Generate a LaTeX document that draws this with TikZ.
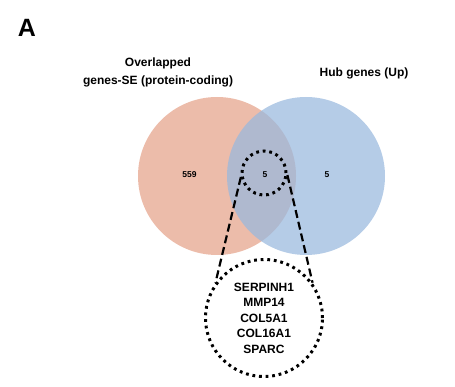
\documentclass[tikz,border=0pt]{standalone}
\usepackage{fontspec}
\setmainfont{Liberation Sans}
\definecolor{setpink}{RGB}{236,188,170}
\definecolor{setblue}{RGB}{152,184,222}
\begin{document}
\begin{tikzpicture}[x=1pt,y=-1pt,
    setcircle/.style={circle, minimum size=158pt, inner sep=0pt},
    dotring/.style={circle, draw=black, line width=3pt, dash pattern=on 2.8pt off 3.8pt, inner sep=0pt},
    zoomline/.style={draw=black, line width=2.2pt, dash pattern=on 8pt off 4pt},
    title/.style={font=\bfseries\fontsize{12}{18}\selectfont, align=center},
    count/.style={font=\bfseries\fontsize{8.5}{10}\selectfont}]
    \useasboundingbox (0,0) rectangle (455,387);

    % Pannello
    \node[font=\bfseries\fontsize{25}{28}\selectfont] (panel) at (27,28) {A};

    % Insiemi del diagramma di Venn
    \node[setcircle, fill=setpink] (se) at (217,176) {};
    \node[setcircle, fill=setblue, fill opacity=0.72] (hub) at (306,176) {};

    % Titoli degli insiemi
    \node[title] (setitle) at (158,72) {Overlapped\\genes-SE (protein-coding)};
    \node[title] (hubtitle) at (364,73) {Hub genes (Up)};

    % Conteggi
    \node[count] (nse) at (189.5,175) {559};
    \node[count] (nboth) at (265,175) {5};
    \node[count] (nhub) at (327,175) {5};

    % Cerchio di ingrandimento e lista dei geni
    \node[dotring, minimum size=44pt] (small) at (264,173) {};
    \node[dotring, minimum size=117pt, align=center,
          font=\bfseries\fontsize{12}{15.5}\selectfont] (big) at (264,318)
          {SERPINH1\\MMP14\\COL5A1\\COL16A1\\SPARC};

    % Linee tratteggiate
    \draw[zoomline] (small.190) -- (big.144);
    \draw[zoomline] (small.-5) -- (big.36);

\end{tikzpicture}
\end{document}
